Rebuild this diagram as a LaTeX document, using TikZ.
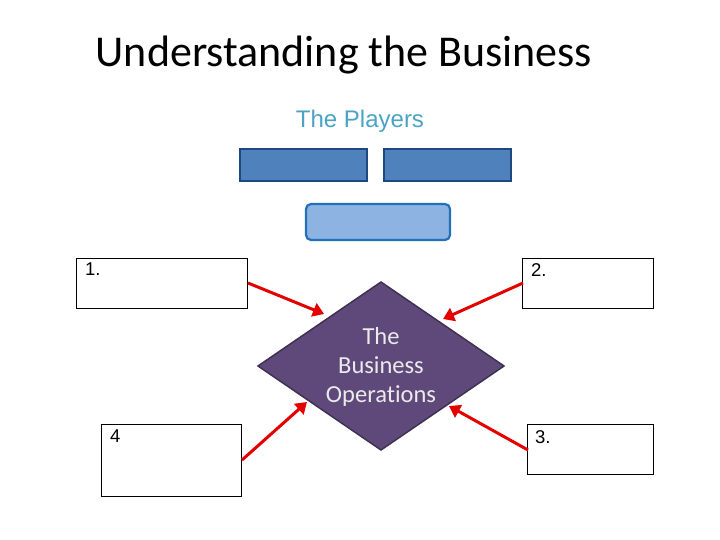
\documentclass[tikz,border=0pt]{standalone}
\usepackage{fontspec}
\setmainfont{Liberation Sans}
\newfontfamily\calib[Ligatures={NoCommon}]{Carlito}
\usetikzlibrary{shapes.geometric,arrows.meta}
\definecolor{darkblue}{HTML}{1F497D}
\definecolor{midblue}{HTML}{4F81BD}
\definecolor{lightblue}{HTML}{8DB3E2}
\definecolor{rbord}{HTML}{2170B8}
\definecolor{playc}{HTML}{4BA3C3}
\definecolor{purp}{HTML}{5F497A}
\definecolor{purpb}{HTML}{3F3151}
\tikzset{
  lbox/.style={draw=black, line width=0.8pt, fill=white},
  lbl/.style={anchor=north west, font=\fontsize{18.5}{22}\selectfont, inner sep=0pt},
  redarrow/.style={draw=red!90!black, line width=3pt, -{Triangle[length=11pt,width=14pt]}, shorten >=0pt},
}
\begin{document}
\begin{tikzpicture}[x=1pt,y=-1pt]
\useasboundingbox (0,0) rectangle (720,540);
\node[font=\calib\fontsize{44}{50}\selectfont, anchor=base] (title) at (344,67) {Understanding the Business};
\node[font=\fontsize{24}{28}\selectfont, text=playc] (players) at (360,121) {The Players};
\draw[fill=midblue, draw=darkblue, line width=2.2pt] (240,149) rectangle (367,181);
\node (p1) at (303.5,165) {};
\draw[fill=midblue, draw=darkblue, line width=2.2pt] (384,149) rectangle (511,181);
\node (p2) at (447.5,165) {};
\draw[fill=lightblue, draw=rbord, line width=2.2pt, rounded corners=5pt] (306,204) rectangle (450,240);
\node (p3) at (378,222) {};
% diamond
\draw[fill=purp, draw=purpb, line width=1.5pt] (258,366) -- (381,282) -- (504,366) -- (381,450) -- cycle;
\node[align=center, text=white!92!black, font=\calib\fontsize{24.5}{29}\selectfont] (ops) at (381,367) {The\\Business\\Operations};
% boxes
\draw[lbox] (76,258) rectangle (247,308);
\node[lbl] (b1) at (85,263) {1.};
\draw[lbox] (522,258) rectangle (653,308);
\node[lbl] (b2) at (531,263) {2.};
\draw[lbox] (101,424) rectangle (241,496);
\node[lbl] (b4) at (110,430) {4};
\draw[lbox] (527,424) rectangle (653,474);
\node[lbl] (b3) at (535,430) {3.};
\coordinate (a1s) at (248,283);
\coordinate (a1e) at (324,314);
\coordinate (a2s) at (523,283);
\coordinate (a2e) at (443,319);
\coordinate (a4s) at (242,460);
\coordinate (a4e) at (307,402);
\coordinate (a3s) at (528,450);
\coordinate (a3e) at (449,406);
\draw[redarrow] (a1s) -- (a1e);
\draw[redarrow] (a2s) -- (a2e);
\draw[redarrow] (a4s) -- (a4e);
\draw[redarrow] (a3s) -- (a3e);
\end{tikzpicture}
\end{document}
